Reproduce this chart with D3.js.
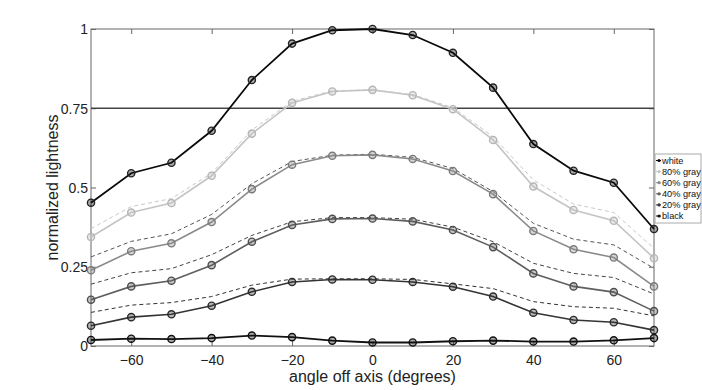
<!DOCTYPE html>
<html><head><meta charset="utf-8">
<script src="https://cdn.jsdelivr.net/npm/d3@7"></script>
<style>body{margin:0;background:#fff}svg{display:block}text{font-family:"Liberation Sans",Arial,sans-serif}</style>
</head><body><svg id="c" width="702" height="390"></svg>
<script>
const angles = [-70,-60,-50,-40,-30,-20,-10,0,10,20,30,40,50,60,70];
const seriesNames = ["white","80% gray","60% gray","40% gray","20% gray","black"];
const whiteVals = [0.452,0.545,0.578,0.679,0.839,0.954,0.996,1.0,0.981,0.925,0.815,0.637,0.553,0.515,0.369];
const gray80Vals = [0.344,0.421,0.451,0.537,0.670,0.767,0.803,0.808,0.791,0.747,0.650,0.503,0.429,0.395,0.277];
const gray60Vals = [0.239,0.299,0.324,0.391,0.495,0.572,0.600,0.603,0.590,0.552,0.479,0.363,0.305,0.279,0.188];
const gray40Vals = [0.146,0.188,0.206,0.255,0.329,0.382,0.401,0.402,0.393,0.366,0.312,0.229,0.188,0.170,0.110];
const gray20Vals = [0.064,0.091,0.100,0.127,0.171,0.202,0.210,0.209,0.202,0.187,0.156,0.105,0.082,0.075,0.050];
const blackVals = [0.019,0.023,0.022,0.025,0.033,0.028,0.017,0.011,0.011,0.015,0.017,0.014,0.014,0.018,0.025];
const gray80Ref = [0.370,0.440,0.465,0.545,0.681,0.772,0.805,0.808,0.793,0.752,0.660,0.524,0.448,0.421,0.308];
const gray60Ref = [0.281,0.330,0.354,0.415,0.512,0.582,0.602,0.605,0.595,0.560,0.487,0.387,0.337,0.319,0.245];
const gray40Ref = [0.195,0.231,0.244,0.288,0.349,0.392,0.405,0.405,0.400,0.375,0.329,0.261,0.229,0.216,0.164];
const gray20Ref = [0.106,0.129,0.137,0.156,0.192,0.211,0.212,0.212,0.210,0.196,0.181,0.140,0.124,0.119,0.095];
const xTicks = [-60,-40,-20,0,20,40,60];
const yTicks = [0,0.25,0.5,0.75,1];
const yTickLabels = ["0","0.25","0.5","0.75","1"];
const threshold = 0.75;

const solid = [whiteVals,gray80Vals,gray60Vals,gray40Vals,gray20Vals,blackVals];
const lineColors = ["#0a0a0a","#c4c4c4","#8a8a8a","#5e5e5e","#343434","#111111"];
const markColors = ["#222","#b5b5b5","#7a7a7a","#4e4e4e","#2a2a2a","#111"];
const refs = [gray80Ref,gray60Ref,gray40Ref,gray20Ref];
const refColors = ["#c8c8c8","#555","#444","#333"];

const svg = d3.select("#c");
const L=91,R=654,T=29,B=346;
const x = d3.scaleLinear().domain([-70,70]).range([L,R]);
const y = d3.scaleLinear().domain([0,1]).range([B,T]);
const axisCol="#666";

svg.append("rect").attr("x",L).attr("y",T).attr("width",R-L).attr("height",B-T)
  .attr("fill","none").attr("stroke",axisCol).attr("stroke-width",1);

const gB = svg.append("g").attr("transform",`translate(0,${B})`)
  .call(d3.axisBottom(x).tickValues(xTicks).tickSize(-5).tickPadding(9).tickFormat(d3.format("d")));
const gT = svg.append("g").attr("transform",`translate(0,${T})`)
  .call(d3.axisTop(x).tickValues(xTicks).tickSize(-5).tickFormat(""));
const gL = svg.append("g").attr("transform",`translate(${L},0)`)
  .call(d3.axisLeft(y).tickValues(yTicks).tickSize(-5).tickPadding(3).tickFormat((d,i)=>yTickLabels[i]));
const gR = svg.append("g").attr("transform",`translate(${R},0)`)
  .call(d3.axisRight(y).tickValues(yTicks).tickSize(-5).tickFormat(""));
[gB,gT,gL,gR].forEach(g=>{
  g.select(".domain").remove();
  g.selectAll(".tick line").attr("stroke",axisCol);
  g.selectAll("text").attr("fill","#222").style("font-size","14px").style("font-family",'"Liberation Sans",Arial,sans-serif');
});
gL.selectAll("text").attr("dy","0.35em");

svg.append("line").attr("x1",L).attr("x2",R).attr("y1",y(threshold)).attr("y2",y(threshold))
  .attr("stroke","#444").attr("stroke-width",1.3);

const line = d3.line().x((d,i)=>x(angles[i])).y(d=>y(d));

refs.forEach((r,k)=>{
  svg.append("path").attr("d",line(r)).attr("fill","none")
    .attr("stroke",refColors[k]).attr("stroke-width",1).attr("stroke-dasharray","4,3");
});

solid.forEach((s,k)=>{
  svg.append("path").attr("d",line(s)).attr("fill","none")
    .attr("stroke",lineColors[k]).attr("stroke-width",k===0||k===5?1.8:1.6);
  svg.append("g").selectAll("circle").data(s).join("circle")
    .attr("cx",(d,i)=>x(angles[i])).attr("cy",d=>y(d)).attr("r",3.6)
    .attr("fill",lineColors[k]).attr("fill-opacity",0.35)
    .attr("stroke",markColors[k]).attr("stroke-width",1.4);
});

svg.append("text").attr("x",(L+R)/2).attr("y",382).attr("text-anchor","middle")
  .style("font-size","16px").attr("fill","#222").text("angle off axis (degrees)");
svg.append("text").attr("transform",`translate(52,${(T+B)/2}) rotate(-90)`).attr("text-anchor","middle")
  .attr("dy","0.35em").style("font-size","16px").attr("fill","#222").text("normalized lightness");

const lg = svg.append("g");
lg.append("rect").attr("x",655).attr("y",154).attr("width",46).attr("height",69)
  .attr("fill","#fff").attr("stroke","#aaa").attr("stroke-width",1);
seriesNames.forEach((n,k)=>{
  const yy = 160.5 + k*11.1;
  lg.append("line").attr("x1",656).attr("x2",661).attr("y1",yy).attr("y2",yy).attr("stroke",lineColors[k]).attr("stroke-width",1);
  lg.append("circle").attr("cx",659).attr("cy",yy).attr("r",1.6).attr("fill",lineColors[k]);
  lg.append("text").attr("x",662).attr("y",yy).attr("dy","0.35em").style("font-size","9.2px").attr("fill","#111").text(n);
});
</script></body></html>
